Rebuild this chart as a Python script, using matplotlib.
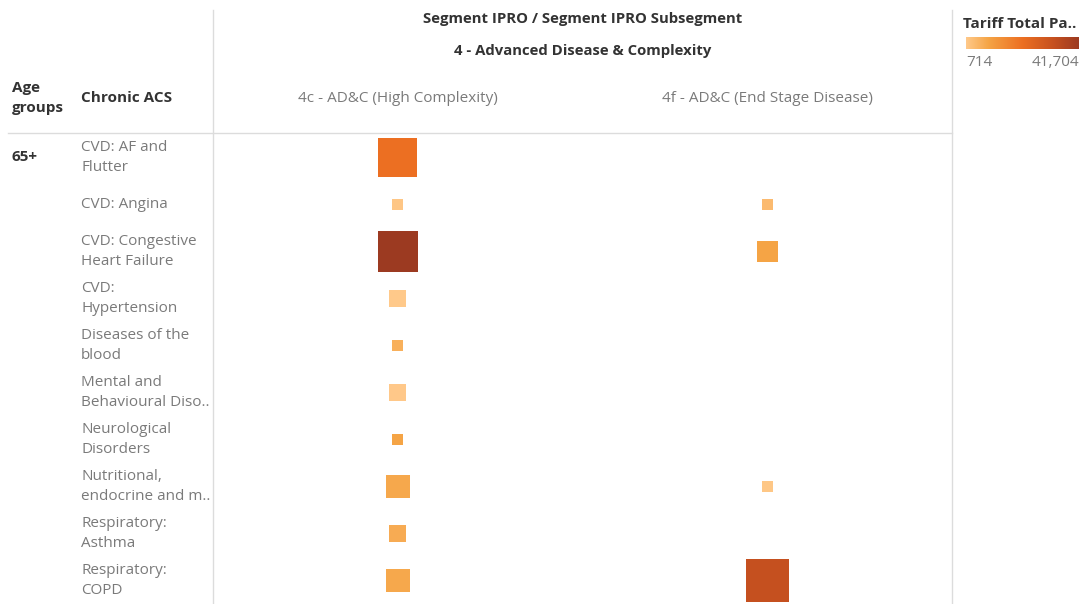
import numpy as np
import matplotlib.pyplot as plt
from matplotlib.lines import Line2D
from matplotlib.colors import LinearSegmentedColormap, Normalize
from matplotlib.transforms import blended_transform_factory

plt.rcParams['font.family'] = ['Open Sans', 'DejaVu Sans']

# Data
conditions = ['CVD: AF and\nFlutter', 'CVD: Angina', 'CVD: Congestive\nHeart Failure',
              'CVD:\nHypertension', 'Diseases of the\nblood', 'Mental and\nBehavioural Diso..',
              'Neurological\nDisorders', 'Nutritional,\nendocrine and m..',
              'Respiratory:\nAsthma', 'Respiratory:\nCOPD']
subsegments = ['4c - AD&C (High Complexity)', '4f - AD&C (End Stage Disease)']
# tariff total payment (colour)
tariff_4c = [21200, 1500, 41704, 714, 6450, 900, 8900, 8100, 7300, 8100]
tariff_4f = [np.nan, 4000, 8900, np.nan, np.nan, np.nan, np.nan, 1200, np.nan, 32700]
# spell counts (size)
spells_4c = [14, 1, 15, 2.6, 1, 2.6, 1, 5, 2.6, 5]
spells_4f = [np.nan, 1.1, 4, np.nan, np.nan, np.nan, np.nan, 1.1, np.nan, 17]

W, H = 1081, 604
fig = plt.figure(figsize=(W / 100, H / 100), dpi=100)

def fx(x):
    return x / W

def fy(y):
    return 1 - y / H

cmap = LinearSegmentedColormap.from_list(
    'tab_orange', [(0, '#FFC98A'), (0.2, '#F5A445'), (0.5, '#EC6F22'),
                   (0.78, '#C5501F'), (1.0, '#9C3A21')])
vmin, vmax = 714, 41704
norm = Normalize(vmin, vmax)

# Marks pane
ax = fig.add_axes([fx(213), 0, fx(952) - fx(213), 1 - 134 / H])
ax.set_xlim(-0.5, 1.5)
ax.set_ylim(len(conditions) - 0.5, -0.5)
ax.axis('off')

smin, smax = 1, 17
side_min, side_max = 11, 43  # px

def marker_area(v):
    a = side_min ** 2 + (np.asarray(v) - smin) * (side_max ** 2 - side_min ** 2) / (smax - smin)
    return a * 0.72 ** 2  # px^2 -> pt^2

rows = np.arange(len(conditions))
for col, (tar, sp) in enumerate([(tariff_4c, spells_4c), (tariff_4f, spells_4f)]):
    tar = np.array(tar, dtype=float)
    sp = np.array(sp, dtype=float)
    ok = ~np.isnan(tar)
    ax.scatter(np.full(ok.sum(), col), rows[ok], s=marker_area(sp[ok]),
               c=cmap(norm(tar[ok])), marker='s', linewidths=0)

# Grid lines
line_c = '#dcdcdc'
fig.add_artist(Line2D([fx(213), fx(213)], [fy(10), 0], color=line_c, lw=1, transform=fig.transFigure))
fig.add_artist(Line2D([fx(952), fx(952)], [fy(10), 0], color=line_c, lw=1, transform=fig.transFigure))
fig.add_artist(Line2D([fx(8), fx(952)], [fy(133), fy(133)], color=line_c, lw=1, transform=fig.transFigure))

dark = '#333333'
grey = '#7a7a7a'
fs = 11

# Headers
fig.text(fx(583), fy(19), 'Segment IPRO / Segment IPRO Subsegment', ha='center', va='center',
         fontsize=10.7, fontweight='bold', color=dark)
fig.text(fx(583), fy(51), '4 - Advanced Disease & Complexity', ha='center', va='center',
         fontsize=10.7, fontweight='bold', color=dark)
for col, name in enumerate(subsegments):
    x = 213 + (col + 0.5) * (952 - 213) / 2
    fig.text(fx(x), fy(98), name, ha='center', va='center', fontsize=fs, color=grey)

fig.text(fx(12), fy(98), 'Age\ngroups', ha='left', va='center', fontsize=fs,
         fontweight='bold', color=dark, linespacing=1.5)
fig.text(fx(81), fy(98), 'Chronic ACS', ha='left', va='center', fontsize=fs,
         fontweight='bold', color=dark)
fig.text(fx(12), fy(157), '65+', ha='left', va='center', fontsize=fs,
         fontweight='bold', color=dark)

# Row labels
trans = blended_transform_factory(fig.transFigure, ax.transData)
for i, name in enumerate(conditions):
    ax.text(fx(81), i, name, transform=trans, ha='left', va='center', fontsize=fs,
            color=grey, linespacing=1.5, clip_on=False)

# Colour legend
fig.text(fx(963), fy(24), 'Tariff Total Pa..', ha='left', va='center', fontsize=fs,
         fontweight='bold', color=dark)
lax = fig.add_axes([fx(966), fy(49), fx(1079) - fx(966), 12 / H])
lax.imshow(np.linspace(0, 1, 256)[None, :], aspect='auto', cmap=cmap)
lax.axis('off')
fig.text(fx(966), fy(62), f'{vmin:,}', ha='left', va='center', fontsize=fs, color=grey)
fig.text(fx(1079), fy(62), f'{vmax:,}', ha='right', va='center', fontsize=fs, color=grey)

fig.savefig('out.png', dpi=100)
